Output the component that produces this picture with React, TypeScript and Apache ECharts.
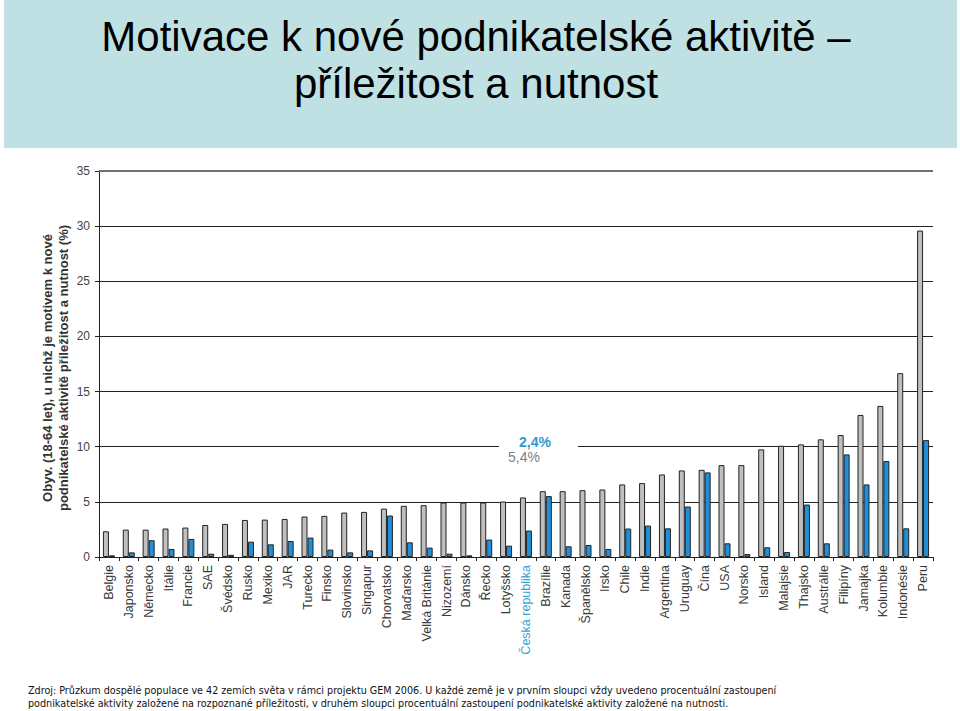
import React, { useEffect, useRef } from "react";
import * as echarts from "echarts";

const categories = [
  "Belgie", "Japonsko", "Německo", "Itálie", "Francie", "SAE", "Švédsko", "Rusko", "Mexiko", "JAR",
  "Turecko", "Finsko", "Slovinsko", "Singapur", "Chorvatsko", "Maďarsko", "Velká Británie", "Nizozemí",
  "Dánsko", "Řecko", "Lotyšsko", "Česká republika", "Brazílie", "Kanada", "Španělsko", "Irsko", "Chile",
  "Indie", "Argentina", "Uruguay", "Čína", "USA", "Norsko", "Island", "Malajsie", "Thajsko", "Austrálie",
  "Filipíny", "Jamajka", "Kolumbie", "Indonésie", "Peru",
];

const opportunity = [
  2.33, 2.48, 2.48, 2.58, 2.67, 2.9, 3.0, 3.36, 3.39, 3.45,
  3.67, 3.73, 4.03, 4.09, 4.39, 4.64, 4.7, 4.94,
  4.94, 4.94, 5.03, 5.4, 5.97, 5.97, 6.06, 6.12, 6.58,
  6.7, 7.48, 7.85, 7.9, 8.33, 8.33, 9.76, 10.09, 10.21, 10.67,
  11.06, 12.88, 13.7, 16.67, 29.6,
];

const necessity = [
  0.15, 0.42, 1.52, 0.73, 1.64, 0.3, 0.2, 1.39, 1.15, 1.45,
  1.76, 0.67, 0.42, 0.6, 3.76, 1.33, 0.85, 0.3,
  0.15, 1.58, 1.03, 2.4, 5.52, 0.97, 1.09, 0.73, 2.58,
  2.85, 2.6, 4.58, 7.67, 1.24, 0.27, 0.88, 0.45, 4.76, 1.24,
  9.3, 6.58, 8.7, 2.6, 10.6,
];

const highlightCategory = "Česká republika";
const yTicks = { min: 0, max: 35, interval: 5 };

const titleLines = ["Motivace k nové podnikatelské aktivitě –", "příležitost a nutnost"];
const yAxisTitle = ["Obyv. (18-64 let), u nichž je motivem k nové", "podnikatelské aktivitě příležitost a nutnost (%)"];
const annotationNecessity = "2,4%";
const annotationOpportunity = "5,4%";
const footerLines = [
  "Zdroj: Průzkum dospělé populace ve 42 zemích světa v rámci projektu GEM 2006. U každé země je v prvním sloupci vždy uvedeno procentuální zastoupení",
  "podnikatelské aktivity založené na rozpoznané příležitosti, v druhém sloupci procentuální zastoupení podnikatelské aktivity založené na nutnosti.",
];

const SANS = "'Liberation Sans', Arial, Helvetica, sans-serif";
const NARROW = "'Liberation Sans Narrow', 'DejaVu Sans Condensed', 'Liberation Sans', sans-serif";

export default function App() {
  const ref = useRef<HTMLDivElement>(null);

  useEffect(() => {
    if (!ref.current) return;
    const chart = echarts.init(ref.current, undefined, { renderer: "svg" });

    const xData = categories.map((c) =>
      c === highlightCategory ? { value: c, textStyle: { color: "#3a9fd6" } } : c
    );

    chart.setOption({
      animation: false,
      backgroundColor: "#ffffff",
      grid: { left: 99, right: 27, top: 171, bottom: 154, containLabel: false },
      xAxis: {
        type: "category",
        data: xData,
        boundaryGap: true,
        axisLine: { show: true, lineStyle: { color: "#222", width: 1 } },
        axisTick: { show: true, interval: 0, length: 4, lineStyle: { color: "#222" } },
        axisLabel: {
          interval: 0,
          rotate: 90,
          margin: 8,
          fontFamily: SANS,
          fontSize: 12.5,
          color: "#3a3a3a",
        },
      },
      yAxis: {
        type: "value",
        min: yTicks.min,
        max: yTicks.max,
        interval: yTicks.interval,
        axisLine: { show: true, lineStyle: { color: "#222", width: 1 } },
        axisTick: { show: true, length: 4, lineStyle: { color: "#222" } },
        axisLabel: { fontFamily: SANS, fontSize: 12, color: "#444", margin: 9 },
        splitLine: { show: true, lineStyle: { color: "#222", width: 1 } },
      },
      series: [
        {
          name: "příležitost",
          type: "bar",
          data: opportunity,
          barWidth: 6,
          barGap: "0%",
          itemStyle: { color: "#bfbfbf", borderColor: "#222", borderWidth: 1 },
          markLine: {
            silent: true,
            symbol: "none",
            label: { show: false },
            lineStyle: { color: "#707070", width: 2, type: "solid" },
            data: [{ yAxis: yTicks.max }],
          },
        },
        {
          name: "nutnost",
          type: "bar",
          data: necessity,
          barWidth: 6,
          barGap: "0%",
          itemStyle: { color: "#1f8fdc", borderColor: "#222", borderWidth: 1 },
        },
      ],
      graphic: [
        {
          type: "rect",
          z: -10,
          silent: true,
          shape: { x: 4, y: 0, width: 953, height: 148 },
          style: { fill: "#bfe1e4" },
        },
        {
          type: "text",
          x: 476,
          y: 36,
          style: {
            text: titleLines[0],
            fontFamily: SANS,
            fontSize: 42,
            fill: "#000",
            align: "center",
            verticalAlign: "middle",
          },
        },
        {
          type: "text",
          x: 476,
          y: 83,
          style: {
            text: titleLines[1],
            fontFamily: SANS,
            fontSize: 42,
            fill: "#000",
            align: "center",
            verticalAlign: "middle",
          },
        },
        {
          type: "text",
          x: 55,
          y: 368,
          rotation: Math.PI / 2,
          style: {
            text: yAxisTitle.join("\n"),
            fontFamily: SANS,
            fontSize: 13,
            fontWeight: "bold",
            lineHeight: 16,
            fill: "#333",
            align: "center",
            verticalAlign: "middle",
          },
        },
        {
          type: "rect",
          z: 50,
          silent: true,
          shape: { x: 499, y: 444, width: 79, height: 5 },
          style: { fill: "#ffffff" },
        },
        {
          type: "text",
          z: 60,
          x: 519,
          y: 442,
          style: {
            text: annotationNecessity,
            fontFamily: SANS,
            fontSize: 14,
            fontWeight: "bold",
            fill: "#3399d0",
            align: "left",
            verticalAlign: "middle",
          },
        },
        {
          type: "text",
          z: 60,
          x: 508,
          y: 457,
          style: {
            text: annotationOpportunity,
            fontFamily: SANS,
            fontSize: 14,
            fill: "#808080",
            align: "left",
            verticalAlign: "middle",
          },
        },
        {
          type: "text",
          x: 28,
          y: 690,
          style: {
            text: footerLines[0],
            fontFamily: NARROW,
            fontSize: 10.7,
            fill: "#111",
            align: "left",
            verticalAlign: "middle",
          },
        },
        {
          type: "text",
          x: 28,
          y: 703,
          style: {
            text: footerLines[1],
            fontFamily: NARROW,
            fontSize: 10.7,
            fill: "#111",
            align: "left",
            verticalAlign: "middle",
          },
        },
      ],
    });

    return () => {
      chart.dispose();
    };
  }, []);

  return (
    <div
      ref={ref}
      style={{ position: "absolute", left: 0, top: 0, width: 960, height: 711 }}
    />
  );
}
